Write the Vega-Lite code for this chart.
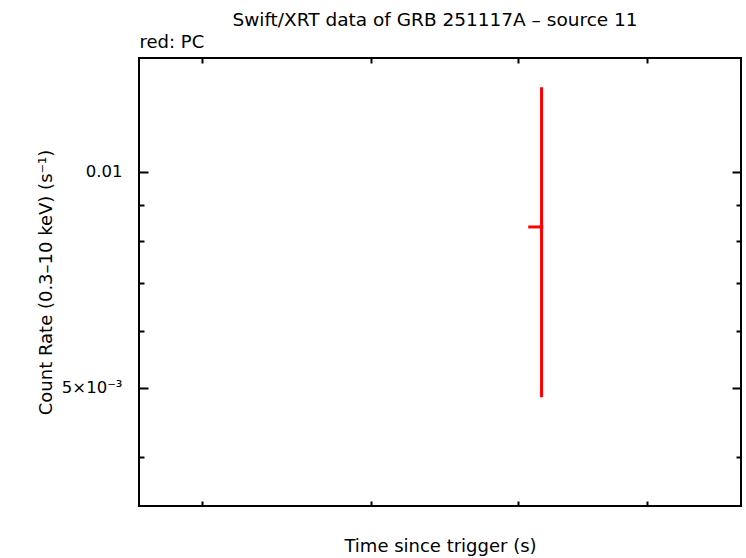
{
  "$schema": "https://vega.github.io/schema/vega-lite/v6.json",
  "width": 602,
  "height": 448,
  "autosize": "none",
  "padding": {"left": 139, "top": 58, "right": 5, "bottom": 52},
  "background": "white",
  "config": {
    "font": "DejaVu Sans",
    "view": {"stroke": "black", "strokeWidth": 2},
    "axis": {"domain": false, "grid": false, "tickColor": "black", "tickWidth": 2, "labelColor": "black", "titleColor": "black", "labelFont": "DejaVu Sans", "titleFont": "DejaVu Sans", "labelFontSize": 16.5, "titleFontSize": 18, "titleFontWeight": "normal"}
  },
  "title": {"text": "Swift/XRT data of GRB 251117A – source 11", "anchor": "middle", "frame": "group", "font": "DejaVu Sans", "fontSize": 18.5, "fontWeight": "normal", "color": "black", "offset": 4, "dx": -5},
  "data": {"values": [{"t": 81768, "t_lo": 80780, "t_hi": 81900, "rate": 0.00838, "rate_lo": 0.004853, "rate_hi": 0.01312}]},
  "layer": [
    {
      "mark": {"type": "rule", "color": "#ff0000", "strokeWidth": 3},
      "encoding": {
        "x": {"field": "t", "type": "quantitative", "scale": {"type": "log", "domain": [56663, 98063], "nice": false, "zero": false},
          "axis": {"orient": "bottom", "values": [60000, 70000, 80000, 90000], "labels": false, "tickSize": -5, "title": "Time since trigger (s)", "titlePadding": 30}},
        "y": {"field": "rate_lo", "type": "quantitative", "scale": {"type": "log", "domain": [0.003423, 0.01441], "nice": false, "zero": false},
          "axis": {"orient": "left", "values": [0.005, 0.01],
            "labelExpr": "datum.value > 0.0075 ? '0.01' : '5×10⁻³'",
            "tickSize": -9, "labelPadding": 26, "title": "Count Rate (0.3–10 keV) (s⁻¹)", "titlePadding": 6}},
        "y2": {"field": "rate_hi"}
      }
    },
    {
      "mark": {"type": "rule", "color": "#ff0000", "strokeWidth": 3},
      "encoding": {
        "x": {"field": "t_lo", "type": "quantitative", "scale": {"type": "log", "domain": [56663, 98063], "nice": false, "zero": false}, "axis": null},
        "x2": {"field": "t_hi"},
        "y": {"field": "rate", "type": "quantitative", "scale": {"type": "log", "domain": [0.003423, 0.01441], "nice": false, "zero": false}, "axis": null}
      }
    },
    {
      "mark": {"type": "point", "opacity": 0},
      "encoding": {
        "x": {"field": "t", "type": "quantitative", "scale": {"type": "log", "domain": [56663, 98063], "nice": false, "zero": false},
          "axis": {"orient": "top", "values": [60000, 70000, 80000, 90000], "labels": false, "tickSize": -5, "title": "red: PC", "titleAnchor": "start", "titleAlign": "left", "titlePadding": 6}},
        "y": {"field": "rate", "type": "quantitative", "scale": {"type": "log", "domain": [0.003423, 0.01441], "nice": false, "zero": false},
          "axis": {"orient": "right", "values": [0.005, 0.01], "labels": false, "tickSize": -9, "title": null}}
      }
    },
    {
      "mark": {"type": "point", "opacity": 0},
      "encoding": {
        "x": {"field": "t", "type": "quantitative", "scale": {"type": "log", "domain": [56663, 98063], "nice": false, "zero": false}, "axis": null},
        "y": {"field": "rate", "type": "quantitative", "scale": {"type": "log", "domain": [0.003423, 0.01441], "nice": false, "zero": false},
          "axis": {"orient": "left", "values": [0.004, 0.006, 0.007, 0.008, 0.009], "labels": false, "tickSize": -5, "title": null}}
      }
    },
    {
      "mark": {"type": "point", "opacity": 0},
      "encoding": {
        "x": {"field": "t", "type": "quantitative", "scale": {"type": "log", "domain": [56663, 98063], "nice": false, "zero": false}, "axis": null},
        "y": {"field": "rate", "type": "quantitative", "scale": {"type": "log", "domain": [0.003423, 0.01441], "nice": false, "zero": false},
          "axis": {"orient": "right", "values": [0.004, 0.006, 0.007, 0.008, 0.009], "labels": false, "tickSize": -5, "title": null}}
      }
    }
  ],
  "resolve": {"axis": {"x": "independent", "y": "independent"}}
}
